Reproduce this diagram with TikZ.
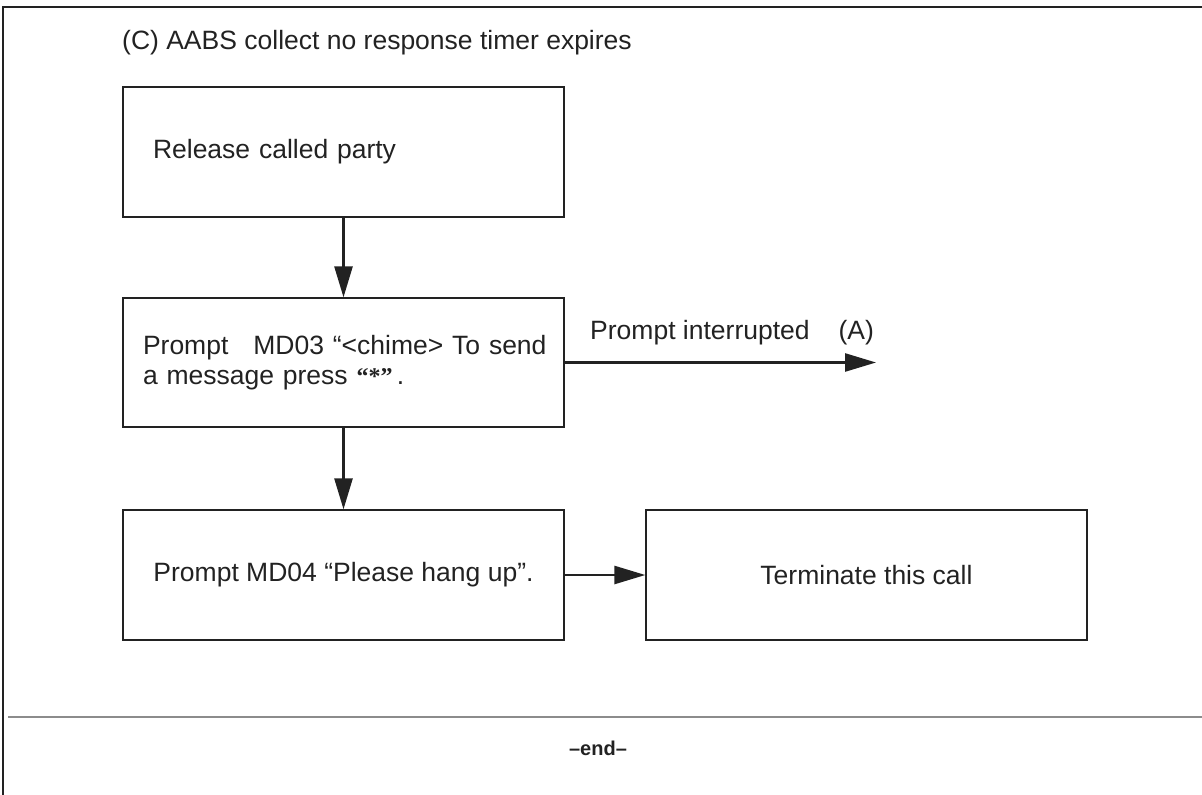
\documentclass[tikz,border=0pt]{standalone}
\usepackage{fontspec}
\setmainfont{Liberation Sans}
\newfontfamily\quoteface{Liberation Serif}
\usetikzlibrary{arrows.meta}
\definecolor{ink}{HTML}{222222}
\definecolor{rulegray}{HTML}{8C8C8C}
\begin{document}
\begin{tikzpicture}[x=1pt,y=-1pt,
  font=\fontsize{26.5}{32}\selectfont,
  box/.style={draw=ink, line width=1.3pt, minimum width=441pt, inner sep=0pt, text=ink},
  flow/.style={draw=ink, line width=2.6pt, -{Triangle[length=31pt,width=18pt]}},
  caption/.style={text=ink, inner sep=0pt},
]
\useasboundingbox (0,0) rectangle (1202,795);

% page frame and the closing rule
\draw[ink, line width=1.5pt] (3,795) -- (3,7) -- (1202,7);
\draw[rulegray, line width=2pt] (8,717) -- (1202,717);

% heading
\node[caption, anchor=base west] (title) at (122,49) {(C) AABS collect no response timer expires};

% flow boxes
\node[box, minimum height=130pt, inner xsep=30pt, text width=381pt, align=left]
  (release) at (343.5,152) {Release called party};
\node[box, minimum height=129pt, inner xsep=20pt, text width=401pt, align=left]
  (prompt) at (343.5,362.5)
  {\raisebox{2pt}{\mbox{Prompt\hspace{25pt}MD03 “<chime> To send}}\\[-4pt]a message press {\quoteface\bfseries\fontsize{24}{28}\selectfont “*”}\,.};
\node[box, minimum height=130pt, align=center]
  (hangup) at (343.5,575) {Prompt MD04 “Please hang up”.};
\node[box, minimum height=130pt, align=center]
  (term) at (866.5,575) {Terminate this call};

% connectors
\coordinate (toA) at (876,362.5);
\draw[flow] (release) -- (prompt);
\draw[flow] (prompt) -- (hangup);
\draw[flow] (hangup) -- (term);
\draw[flow] (prompt.east) -- (toA);
\node[caption, anchor=base west] (intr) at (590,339) {Prompt interrupted\hspace{29pt}(A)};

% end mark
\node[caption, anchor=base, font=\bfseries\fontsize{20}{24}\selectfont] (endmark) at (598,755) {–end–};
\end{tikzpicture}
\end{document}
